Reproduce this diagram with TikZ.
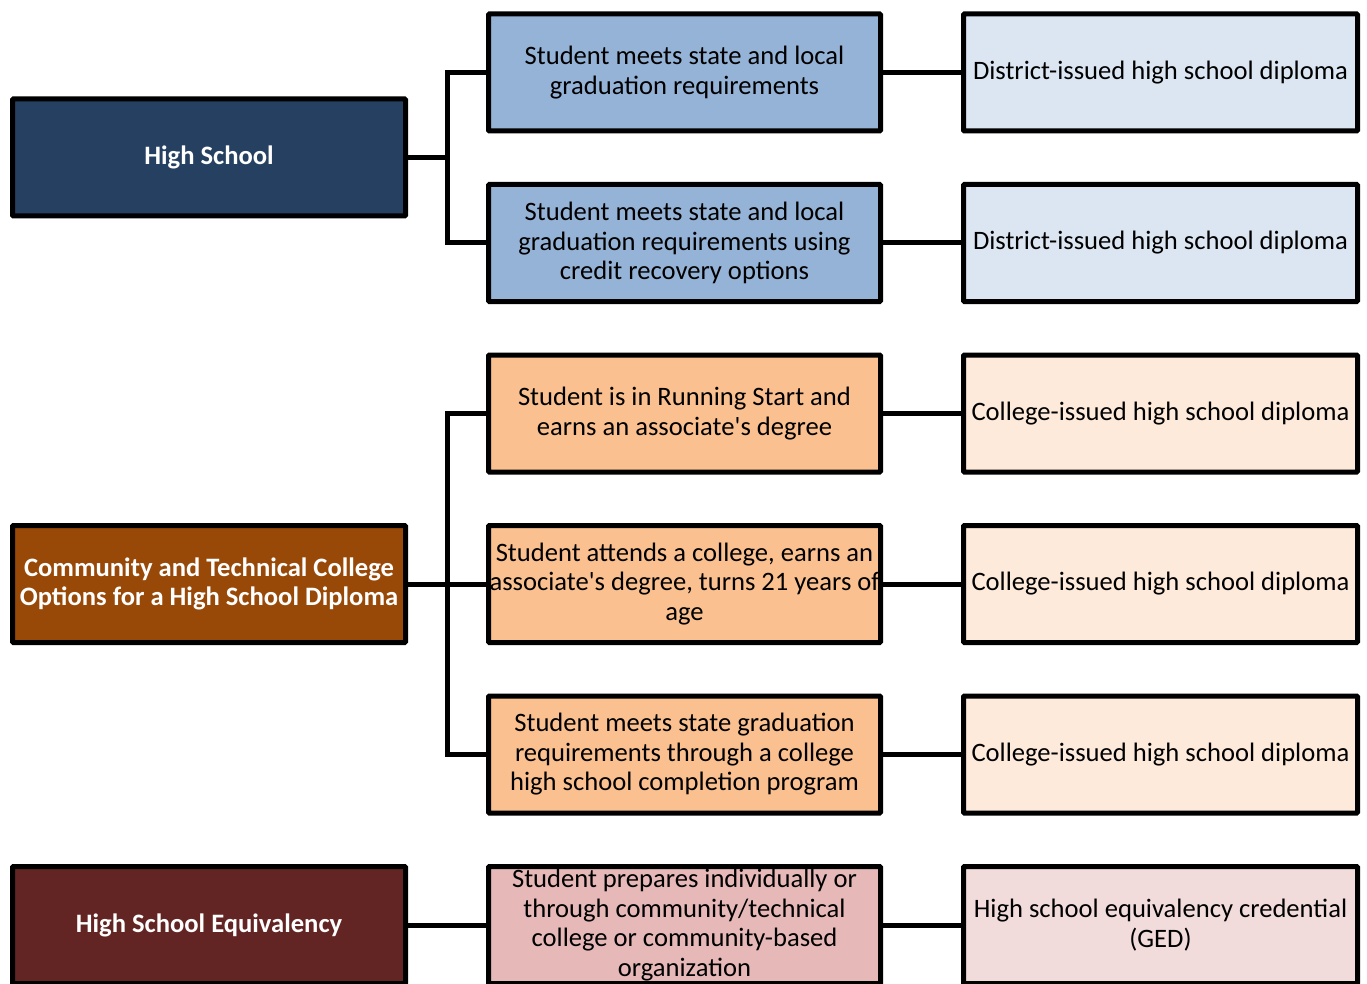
\documentclass[tikz,border=0pt]{standalone}
\usepackage{fontspec}
\setmainfont{Carlito}
\definecolor{hsdark}{HTML}{264061}
\definecolor{hsmid}{HTML}{95B3D7}
\definecolor{hslight}{HTML}{DCE6F2}
\definecolor{ccdark}{HTML}{984807}
\definecolor{ccmid}{HTML}{FAC090}
\definecolor{cclight}{HTML}{FDEADA}
\definecolor{eqdark}{HTML}{632523}
\definecolor{eqmid}{HTML}{E6B9B8}
\definecolor{eqlight}{HTML}{F2DCDB}
\newcommand{\apos}{\textquotesingle}
\tikzset{
  box/.style={draw=black, line width=5pt, rounded corners=1pt, minimum height=117pt, inner sep=0pt, align=center,
    font=\fontsize{26.6}{29.5}\selectfont},
  leftbox/.style={box, minimum width=393pt, text=white, font=\fontsize{26.6}{29.5}\selectfont\bfseries},
  midbox/.style={box, minimum width=392pt, text=black},
  rightbox/.style={box, minimum width=394pt, text=black},
  conn/.style={line width=5pt}
}
\begin{document}
\begin{tikzpicture}[x=1pt,y=-1pt]
\useasboundingbox (0,0) rectangle (1367,984);
\clip (0,0) rectangle (1367,984);
% left
\node[leftbox, fill=hsdark] (hs) at (209,157.5) {High School};
\node[leftbox, fill=ccdark] (cc) at (209,584) {Community and Technical College\\Options for a High School Diploma};
\node[leftbox, fill=eqdark] (eq) at (209,925) {High School Equivalency};
% middle
\node[midbox, fill=hsmid] (m1) at (684.5,72.5) {Student meets state and local\\graduation requirements};
\node[midbox, fill=hsmid] (m2) at (684.5,243) {Student meets state and local\\graduation requirements using\\credit recovery options};
\node[midbox, fill=ccmid] (m3) at (684.5,413.5) {Student is in Running Start and\\earns an associate\apos s degree};
\node[midbox, fill=ccmid] (m4) at (684.5,584) {Student attends a college, earns an\\associate\apos s degree, turns 21 years of\\age};
\node[midbox, fill=ccmid] (m5) at (684.5,754.5) {Student meets state graduation\\requirements through a college\\high school completion program};
\node[midbox, fill=eqmid] (m6) at (684.5,925) {Student prepares individually or\\through community/technical\\college or community-based\\organization};
% right
\node[rightbox, fill=hslight] (r1) at (1160.5,72.5) {District-issued high school diploma};
\node[rightbox, fill=hslight] (r2) at (1160.5,243) {District-issued high school diploma};
\node[rightbox, fill=cclight] (r3) at (1160.5,413.5) {College-issued high school diploma};
\node[rightbox, fill=cclight] (r4) at (1160.5,584) {College-issued high school diploma};
\node[rightbox, fill=cclight] (r5) at (1160.5,754.5) {College-issued high school diploma};
\node[rightbox, fill=eqlight] (r6) at (1160.5,925) {High school equivalency credential\\(GED)};
% connectors
\coordinate (b1) at (447,157.5);
\coordinate (b2) at (447,584);
\draw[conn] (hs.east) -- (b1);
\draw[conn] (m1.west) -| (b1) |- (m2.west);
\draw[conn] (cc.east) -- (m4.west);
\draw[conn] (m3.west) -| (b2) |- (m5.west);
\draw[conn] (eq.east) -- (m6.west);
\draw[conn] (m1.east) -- (r1.west);
\draw[conn] (m2.east) -- (r2.west);
\draw[conn] (m3.east) -- (r3.west);
\draw[conn] (m4.east) -- (r4.west);
\draw[conn] (m5.east) -- (r5.west);
\draw[conn] (m6.east) -- (r6.west);
\end{tikzpicture}
\end{document}
